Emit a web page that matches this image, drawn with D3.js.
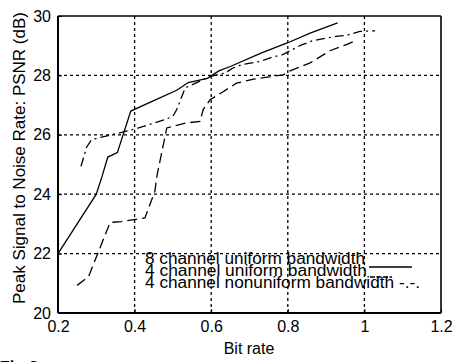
<!DOCTYPE html>
<html>
<head>
<meta charset="utf-8">
<script src="https://cdn.jsdelivr.net/npm/d3@7"></script>
<style>
  body { margin: 0; background: #fff; }
  svg { display: block; font-family: "Liberation Sans", Arial, sans-serif; }
</style>
</head>
<body>
<div id="chart"></div>
<script>
// values
const xTicks = [0.2, 0.4, 0.6, 0.8, 1, 1.2];
const yTicks = [20, 22, 24, 26, 28, 30];

const rate8u = [0.2, 0.3, 0.315, 0.33, 0.355, 0.39, 0.45, 0.51, 0.54, 0.59, 0.62, 0.65, 0.73, 0.8, 0.86, 0.93];
const psnr8u = [22.0, 24.0, 24.6, 25.25, 25.4, 26.8, 27.15, 27.5, 27.76, 27.9, 28.15, 28.3, 28.75, 29.1, 29.43, 29.77];

const rate4u = [0.25, 0.28, 0.336, 0.366, 0.427, 0.453, 0.458, 0.484, 0.536, 0.571, 0.579, 0.597, 0.632, 0.666, 0.714, 0.788, 0.806, 0.858, 0.875, 0.91, 0.958, 0.971];
const psnr4u = [20.93, 21.23, 23.05, 23.08, 23.2, 24.1, 24.6, 26.23, 26.4, 26.45, 26.85, 27.18, 27.46, 27.74, 27.88, 28.02, 28.15, 28.42, 28.55, 28.83, 29.06, 29.14];

const rate4n = [0.26, 0.275, 0.288, 0.323, 0.366, 0.41, 0.479, 0.5, 0.51, 0.532, 0.597, 0.636, 0.657, 0.68, 0.727, 0.761, 0.787, 0.836, 0.866, 0.902, 0.931, 0.954, 0.988, 1.028];
const psnr4n = [24.94, 25.59, 25.84, 25.95, 26.08, 26.23, 26.51, 26.62, 26.85, 27.58, 27.96, 28.08, 28.25, 28.36, 28.47, 28.62, 28.7, 29.03, 29.17, 29.26, 29.32, 29.35, 29.48, 29.5];

const legendLabels = ['8 channel uniform bandwidth', '4 channel uniform bandwidth', '4 channel nonuniform bandwidth -.-.'];

const W = 453, H = 362;
const plot = { left: 58, right: 441, top: 16, bottom: 313 };

const svg = d3.select('#chart').append('svg').attr('width', W).attr('height', H);

const x = d3.scaleLinear().domain([0.2, 1.2]).range([plot.left, plot.right]);
const y = d3.scaleLinear().domain([20, 30]).range([plot.bottom, plot.top]);

// dotted grid
const grid = svg.append('g').attr('stroke', '#000').attr('stroke-width', 1.3).attr('stroke-dasharray', '3,3');
grid.selectAll('.gx').data(xTicks.slice(1, -1)).enter().append('line')
  .attr('x1', d => x(d)).attr('x2', d => x(d)).attr('y1', plot.top).attr('y2', plot.bottom);
grid.selectAll('.gy').data(yTicks.slice(1, -1)).enter().append('line')
  .attr('x1', plot.left).attr('x2', plot.right).attr('y1', d => y(d)).attr('y2', d => y(d));

// curves
const line = d3.line().x(d => x(d[0])).y(d => y(d[1]));
const series = [
  { r: rate8u, p: psnr8u, dash: null },
  { r: rate4u, p: psnr4u, dash: '10,5' },
  { r: rate4n, p: psnr4n, dash: '9,4,2,4' }
];
series.forEach(s => {
  svg.append('path')
    .datum(d3.zip(s.r, s.p))
    .attr('d', line)
    .attr('fill', 'none')
    .attr('stroke', '#000')
    .attr('stroke-width', 1.3)
    .attr('stroke-dasharray', s.dash);
});

// axes box
const xAxis = d3.axisBottom(x).tickValues(xTicks).tickSize(-4).tickPadding(8)
  .tickFormat(d => d3.format('~g')(d));
const yAxis = d3.axisLeft(y).tickValues(yTicks).tickSize(-4).tickPadding(7);
const gx = svg.append('g').attr('transform', `translate(0,${plot.bottom})`).call(xAxis);
const gy = svg.append('g').attr('transform', `translate(${plot.left},0)`).call(yAxis);
[gx, gy].forEach(g => {
  g.select('.domain').remove();
  g.selectAll('line').attr('stroke', '#000');
  g.selectAll('text').attr('font-size', 16).attr('fill', '#000').attr('font-family', '"Liberation Sans", Arial, sans-serif');
});
svg.append('line').attr('x1', plot.left).attr('x2', plot.left).attr('y1', plot.top).attr('y2', plot.bottom)
  .attr('stroke', '#000').attr('stroke-width', 2);
svg.append('line').attr('x1', plot.left).attr('x2', plot.right).attr('y1', plot.bottom).attr('y2', plot.bottom)
  .attr('stroke', '#000').attr('stroke-width', 2);
svg.append('line').attr('x1', plot.left).attr('x2', plot.right).attr('y1', plot.top).attr('y2', plot.top)
  .attr('stroke', '#000').attr('stroke-width', 1.3);
svg.append('line').attr('x1', plot.right).attr('x2', plot.right).attr('y1', plot.top).attr('y2', plot.bottom)
  .attr('stroke', '#000').attr('stroke-width', 1.6);

// axis labels
svg.append('text')
  .attr('x', 249).attr('y', 354)
  .attr('text-anchor', 'middle').attr('font-size', 16)
  .text('Bit  rate');
svg.append('text')
  .attr('transform', 'translate(25,158) rotate(-90)')
  .attr('text-anchor', 'middle').attr('font-size', 16)
  .attr('textLength', 292).attr('lengthAdjust', 'spacingAndGlyphs')
  .text('Peak Signal to Noise Rate: PSNR (dB)');

// legend (overlapping matlab-style rows, as in the scan)
const lg = svg.append('g');
const rows = [264, 276, 288];
lg.selectAll('text').data(legendLabels).enter().append('text')
  .attr('x', 145).attr('y', (d, i) => rows[i])
  .attr('font-size', 16)
  .attr('textLength', (d, i) => [220, 222, 275][i])
  .attr('lengthAdjust', 'spacingAndGlyphs')
  .text(d => d);
const samples = [
  { x1: 369, x2: 412, y: 267, dash: null },
  { x1: 370, x2: 392, y: 277, dash: '5,1.5' }
];
samples.forEach(s => {
  lg.append('line').attr('x1', s.x1).attr('x2', s.x2).attr('y1', s.y).attr('y2', s.y)
    .attr('stroke', '#000').attr('stroke-width', 1.3).attr('stroke-dasharray', s.dash);
});

// caption, clipped by page bottom as in the scan
svg.append('text')
  .attr('x', 0).attr('y', 372)
  .attr('font-family', '"Liberation Serif", "Times New Roman", serif')
  .attr('font-weight', 'bold').attr('font-size', 16)
  .text('Fig. 3.');
</script>
</body>
</html>
